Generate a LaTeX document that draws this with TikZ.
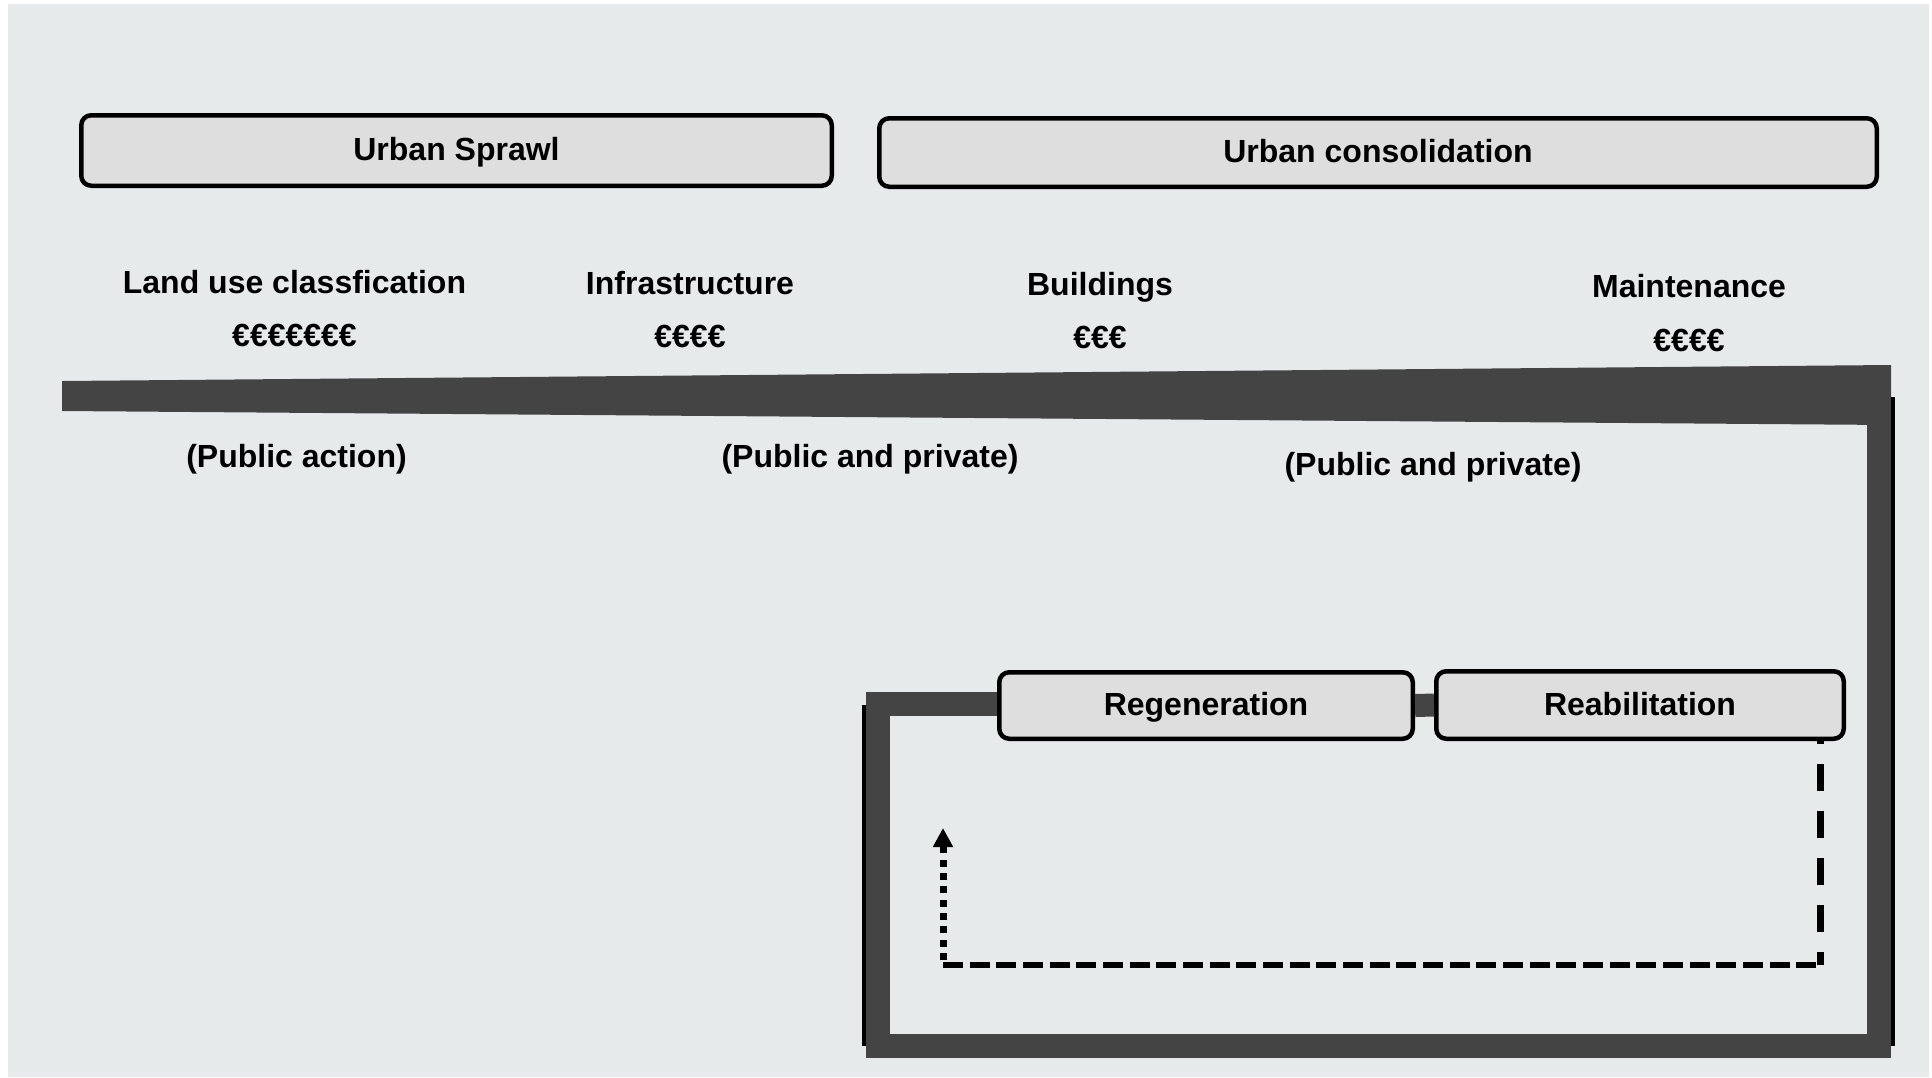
\documentclass[tikz,border=0pt]{standalone}
\usepackage{fontspec}
\setmainfont{Liberation Sans}
\usetikzlibrary{arrows.meta}
\definecolor{canvas}{HTML}{E6EAEB}
\definecolor{boxfill}{HTML}{DEDEDE}
\definecolor{bandgray}{HTML}{444444}

\begin{document}
\begin{tikzpicture}[x=1pt,y=-1pt,
  stagebox/.style={draw=black, line width=4.5pt, rounded corners=10pt, fill=boxfill,
    inner sep=0pt, text height=22pt, text depth=2pt,
    font=\bfseries\fontsize{32}{36}\selectfont},
  caption/.style={anchor=base, inner sep=0pt, font=\bfseries\fontsize{32}{36}\selectfont},
  band/.style={draw=bandgray, line width=24pt, line join=miter},
  edgeline/.style={draw=black, line width=4pt},
]
\useasboundingbox (0,0) rectangle (1932,1077);
\fill[white] (0,0) rectangle (1932,1077);
\fill[canvas] (8,4) rectangle (1929,1077);

% phase boxes
\node[stagebox, minimum width=750.5pt, minimum height=70.5pt] (sprawl) at (456.5,150.5) {Urban Sprawl};
\node[stagebox, minimum width=997.5pt, minimum height=68.5pt] (consol) at (1378,152.5) {Urban consolidation};

% stage captions and costs
\node[caption] (land) at (294.5,293) {Land use classfication};
\node[caption] (landc) at (294.5,346) {€€€€€€€};
\node[caption] (infra) at (690,294) {Infrastructure};
\node[caption] (infrac) at (690,347) {€€€€};
\node[caption] (build) at (1100,295.5) {Buildings};
\node[caption] (buildc) at (1100,348.5) {€€€};
\node[caption] (maint) at (1689,297.5) {Maintenance};
\node[caption] (maintc) at (1689,351) {€€€€};

\node[caption] (pub1) at (296.5,467) {(Public action)};
\node[caption] (pub2) at (870,467) {(Public and private)};
\node[caption] (pub3) at (1433,475) {(Public and private)};

% tapered timeline band
\fill[bandgray] (62,381) -- (1891,365) -- (1891,425) -- (62,411) -- cycle;

% renewal stages
\node[stagebox, minimum width=413.5pt, minimum height=66.5pt] (reg) at (1206,705.5) {Regeneration};
\node[stagebox, minimum width=407.5pt, minimum height=67.5pt] (reab) at (1640,705) {Reabilitation};

% thin dark edges beside the return loop
\draw[edgeline] (1893,397) -- (1893,1046);
\draw[edgeline, line width=3.5pt] (864,705) -- (864,1046);

% return loop from the timeline back to the renewal stages
\coordinate (lt) at (878,703.5);
\coordinate (lb) at (878,1046);
\coordinate (rb) at (1879,1046);
\coordinate (rt) at (1879,400);
\draw[band] ([yshift=2pt]reg.west) -- (lt) -- (lb) -- (rb) -- (rt);
\draw[band, line width=23pt] (reg.east) -- (reab.west);

% feedback arrow
\coordinate (d0) at ([xshift=-26pt]reab.south east);
\coordinate (d1) at (1820,965);
\coordinate (d2) at (943,965);
\coordinate (d3) at (943,828);
\draw[line width=7pt, dash pattern=on 27pt off 20pt, dash phase=24pt] (d0) -- (d1);
\draw[line width=6pt, dash pattern=on 20pt off 6.67pt] (d2) -- (d1);
\draw[line width=7pt, dash pattern=on 7pt off 6.33pt,
  -{Triangle[length=19pt,width=19pt]}] ([yshift=5pt]d2) -- (d3);
\end{tikzpicture}
\end{document}
